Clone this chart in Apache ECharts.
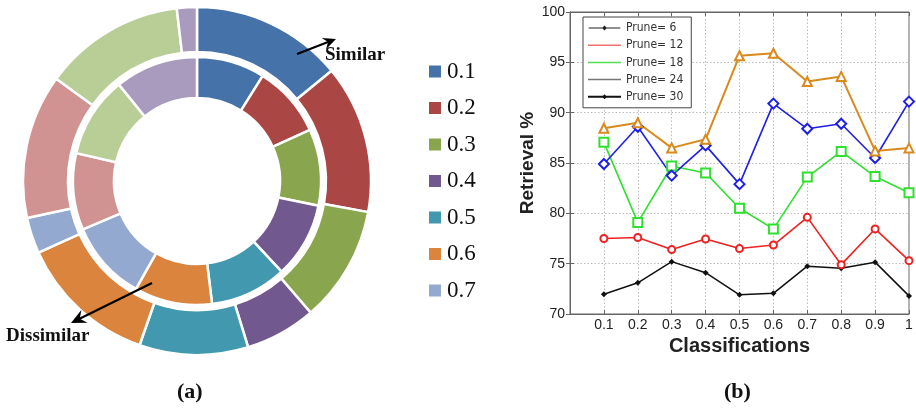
<!DOCTYPE html>
<html>
<head>
<meta charset="utf-8">
<script src="https://cdn.jsdelivr.net/npm/echarts@6/dist/echarts.min.js"></script>
<style>
html,body{margin:0;padding:0;background:#fff;}
#c{width:916px;height:411px;}
</style>
</head>
<body>
<div id="c"></div>
<script>
// ---- (a) nested donut data ----
const pieNames = ['0.1','0.2','0.3','0.4','0.5','0.6','0.7','0.8','0.9','1.0'];
const pieLegend = ['0.1','0.2','0.3','0.4','0.5','0.6','0.7'];
const pieColors = ['#4572a8','#aa4643','#89a54e','#71588f','#4198af','#db843d','#93a9cf','#d19392','#b9cd96','#a99bbd'];
const outerValues = [50.7, 49.6, 38.9, 23.7, 36.4, 46.4, 12.0, 48.3, 47.3, 6.7];
const innerValues = [32.0, 33.7, 35.8, 35.5, 36.0, 36.5, 37.5, 36.0, 38.0, 39.0];

// ---- (b) line chart data ----
const classes = [0.1, 0.2, 0.3, 0.4, 0.5, 0.6, 0.7, 0.8, 0.9, 1.0];
const yTicks = [70, 75, 80, 85, 90, 95, 100];
const prune6  = [71.97, 73.1, 75.2, 74.1, 71.9, 72.05, 74.75, 74.55, 75.15, 71.8];   // black
const prune12 = [77.5, 77.6, 76.4, 77.45, 76.5, 76.85, 79.6, 74.9, 78.45, 75.3];     // red
const prune18 = [87.05, 79.1, 84.7, 84.0, 80.5, 78.45, 83.6, 86.15, 83.65, 82.05];   // green
const prune24 = [84.9, 88.6, 83.75, 86.75, 82.9, 90.9, 88.4, 88.9, 85.5, 91.1];      // blue
const prune30 = [88.45, 89.0, 86.5, 87.35, 95.66, 95.9, 93.1, 93.6, 86.2, 86.5];     // orange
const pruneNames = ['Prune= 6','Prune= 12','Prune= 18','Prune= 24','Prune= 30'];

const chart = echarts.init(document.getElementById('c'), null, {renderer:'canvas'});

function pieData(vals){
  return vals.map((v,i)=>({name:pieNames[i], value:v, itemStyle:{color:pieColors[i]}}));
}
function pts(arr){ return classes.map((x,i)=>[x, arr[i]]); }

function arrow(x1,y1,x2,y2,len,half){
  const dx=x2-x1, dy=y2-y1, L=Math.hypot(dx,dy), ux=dx/L, uy=dy/L;
  const bx=x2-ux*len, by=y2-uy*len, px=-uy*half, py=ux*half;
  return [
    {type:'line', z:100, shape:{x1:x1,y1:y1,x2:x2-ux*len*0.6,y2:y2-uy*len*0.6}, style:{stroke:'#000',lineWidth:2.2}},
    {type:'polygon', z:100, shape:{points:[[x2,y2],[bx+px,by+py],[x2-ux*len*0.65,y2-uy*len*0.65],[bx-px,by-py]]}, style:{fill:'#000'}}
  ];
}

const serifFont = '"Liberation Serif","Times New Roman",serif';
const sansFont = '"Liberation Sans",Arial,Helvetica,sans-serif';
const axisLbl = {color:'#222', fontSize:14, fontFamily:sansFont};

// legend icons (line samples, with a dot for the marked entries)
const iconThinDot = 'path://M0,2 L33,2 L33,3.2 L0,3.2 Z M16.5,0 L19,2.6 L16.5,5.2 L14,2.6 Z';
const iconThin = 'path://M0,0 L33,0 L33,1.5 L0,1.5 Z';
const iconThickDot = 'path://M0,1.5 L33,1.5 L33,3.5 L0,3.5 Z M16.5,0 L19,2.5 L16.5,5 L14,2.5 Z';

const option = {
  animation:false,
  backgroundColor:'#fff',
  legend:[
    {
      data:pieLegend, orient:'vertical', left:427, top:60,
      itemWidth:14, itemHeight:14, itemGap:13.5, icon:'rect', padding:0, itemTextGap:5,
      textStyle:{fontFamily:serifFont, fontSize:23, color:'#111'}
    },
    {
      data:[
        {name:'Prune= 6', icon:iconThinDot, itemStyle:{color:'#222', borderWidth:0}},
        {name:'Prune= 12', icon:iconThin, itemStyle:{color:'#f07070', borderWidth:0}},
        {name:'Prune= 18', icon:iconThin, itemStyle:{color:'#4ee04e', borderWidth:0}},
        {name:'Prune= 24', icon:iconThin, itemStyle:{color:'#777', borderWidth:0}},
        {name:'Prune= 30', icon:iconThickDot, itemStyle:{color:'#111', borderWidth:0}}
      ],
      orient:'vertical', left:583, top:17,
      itemWidth:33, itemHeight:5, itemGap:5.2, itemTextGap:4,
      padding:[5,8,5,5], borderColor:'#444', borderWidth:1, backgroundColor:'#fff',
      textStyle:{fontFamily:'"Liberation Sans Narrow","DejaVu Sans Condensed","Liberation Sans",Arial,sans-serif', fontSize:12, color:'#333'}
    }
  ],
  grid:{left:570, top:12, width:339, height:302, show:true, borderColor:'#666', borderWidth:1, backgroundColor:'transparent'},
  xAxis:[
    {
      type:'value', min:0, max:1, interval:0.1,
      name:'Classifications', nameLocation:'middle', nameGap:20,
      nameTextStyle:{fontFamily:sansFont, fontSize:20, fontWeight:'bold', color:'#222'},
      axisLine:{show:true, lineStyle:{color:'#666'}},
      axisTick:{show:true, inside:true, length:4, lineStyle:{color:'#666'}},
      axisLabel:Object.assign({margin:4, formatter:v=> v===0 ? '' : String(+v.toFixed(1))}, axisLbl),
      splitLine:{show:true, lineStyle:{color:'#bbb', type:[1.5,2], width:1}}
    },
    {
      type:'value', min:0, max:1, interval:0.1, position:'top',
      axisLine:{show:true, lineStyle:{color:'#666'}},
      axisTick:{show:true, inside:true, length:4, lineStyle:{color:'#666'}},
      axisLabel:{show:false}, splitLine:{show:false}
    }
  ],
  yAxis:[
    {
      type:'value', min:yTicks[0], max:yTicks[yTicks.length-1], interval:5,
      name:'Retrieval %', nameLocation:'middle', nameGap:31, nameRotate:90,
      nameTextStyle:{fontFamily:sansFont, fontSize:19, fontWeight:'bold', color:'#222'},
      axisLine:{show:true, lineStyle:{color:'#666'}},
      axisTick:{show:true, inside:true, length:4, lineStyle:{color:'#666'}},
      axisLabel:Object.assign({margin:5}, axisLbl),
      splitLine:{show:true, lineStyle:{color:'#bbb', type:[1.5,2], width:1}}
    },
    {
      type:'value', min:yTicks[0], max:yTicks[yTicks.length-1], interval:5, position:'right',
      axisLine:{show:true, lineStyle:{color:'#666'}},
      axisTick:{show:true, inside:true, length:4, lineStyle:{color:'#666'}},
      axisLabel:{show:false}, splitLine:{show:false}
    }
  ],
  series:[
    {
      type:'pie', name:'outer', center:[197,181], radius:[129,174], startAngle:90, clockwise:true,
      label:{show:false}, labelLine:{show:false}, silent:true,
      itemStyle:{borderColor:'#fff', borderWidth:2.5},
      data:pieData(outerValues)
    },
    {
      type:'pie', name:'inner', center:[197,181], radius:[83,124], startAngle:90, clockwise:true,
      label:{show:false}, labelLine:{show:false}, silent:true,
      itemStyle:{borderColor:'#fff', borderWidth:2.5},
      data:pieData(innerValues)
    },
    {
      type:'line', name:pruneNames[0], data:pts(prune6), symbol:'diamond', symbolSize:6,
      itemStyle:{color:'#111'}, lineStyle:{color:'#111', width:1.5}
    },
    {
      type:'line', name:pruneNames[1], data:pts(prune12), symbol:'emptyCircle', symbolSize:7,
      itemStyle:{color:'#ee2222', borderWidth:1.2}, lineStyle:{color:'#ee2222', width:1.6}
    },
    {
      type:'line', name:pruneNames[2], data:pts(prune18), symbol:'emptyRect', symbolSize:9,
      itemStyle:{color:'#2fe02f', borderWidth:1.2}, lineStyle:{color:'#2fe02f', width:1.6}
    },
    {
      type:'line', name:pruneNames[3], data:pts(prune24), symbol:'emptyDiamond', symbolSize:10,
      itemStyle:{color:'#1f1fe6', borderWidth:1.2}, lineStyle:{color:'#1f1fe6', width:1.6}
    },
    {
      type:'line', name:pruneNames[4], data:pts(prune30), symbol:'emptyTriangle', symbolSize:9,
      itemStyle:{color:'#d98a1e', borderWidth:1.2}, lineStyle:{color:'#d98a1e', width:2}
    }
  ],
  graphic:[
    ...arrow(297,54,336,39,13,6),
    ...arrow(152,283,71,323,15,7),
    {type:'text', z:100, left:325, top:46, style:{text:'Similar', font:'bold 19px '+serifFont, fill:'#111'}},
    {type:'text', z:100, left:6, top:327, style:{text:'Dissimilar', font:'bold 19px '+serifFont, fill:'#111'}},
    {type:'text', z:100, left:177, top:381, style:{text:'(a)', font:'bold 22px '+serifFont, fill:'#111'}},
    {type:'text', z:100, left:724, top:381, style:{text:'(b)', font:'bold 22px '+serifFont, fill:'#111'}}
  ]
};
chart.setOption(option);
</script>
</body>
</html>
